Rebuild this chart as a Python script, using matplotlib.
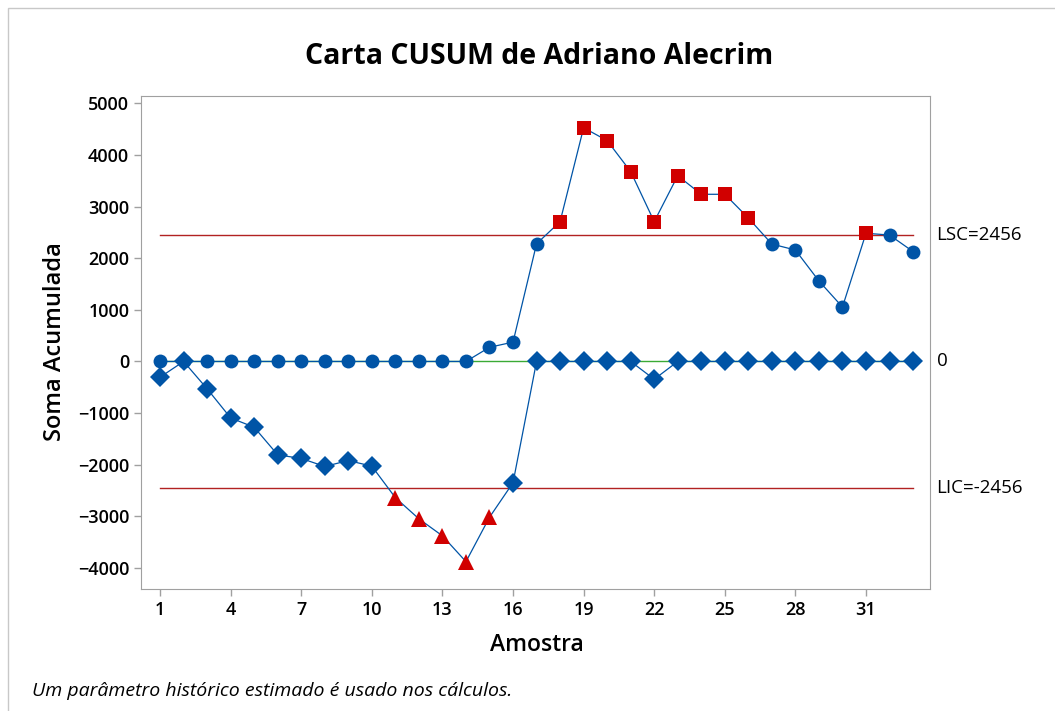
import numpy as np
import matplotlib
matplotlib.use('Agg')
import matplotlib.pyplot as plt
from matplotlib.patches import Rectangle

plt.rcParams['font.family'] = ['Open Sans', 'DejaVu Sans']

# amostras e somas acumuladas
amostra = np.arange(1, 34)
c_sup = [0, 0, 0, 0, 0, 0, 0, 0, 0, 0, 0, 0, 0, 0, 275, 375, 2280,
         2710, 4530, 4280, 3680, 2710, 3600, 3240, 3240, 2780, 2275,
         2160, 1560, 1055, 2485, 2450, 2130]
c_inf = [-305, 0, -530, -1095, -1275, -1810, -1880, -2035, -1920, -2030,
         -2640, -3050, -3380, -3880, -3020, -2350, 0, 0, 0, 0, 0, -345,
         0, 0, 0, 0, 0, 0, 0, 0, 0, 0, 0]
lsc = 2456
lic = -2456
centro = 0

azul = '#0054a6'
vermelho = '#d10000'

fig = plt.figure(figsize=(10.55, 7.11), dpi=100)
ax = fig.add_axes([141/1055, 1-589/711, (930-141)/1055, (589-96)/711])

# borda cinza da figura
fig.patches.append(Rectangle((8/1055, -0.01), 1.0, 1-8/711+0.01, transform=fig.transFigure,
                             fill=False, edgecolor='#c8c8c8', linewidth=1))

c_sup = np.array(c_sup)
c_inf = np.array(c_inf)

ax.plot([1, 33], [lsc, lsc], color='#b22222', lw=1, zorder=1)
ax.plot([1, 33], [lic, lic], color='#b22222', lw=1, zorder=1)
ax.plot([1, 33], [centro, centro], color='#3aaa35', lw=1, zorder=1)

ax.plot(amostra, c_sup, color=azul, lw=0.9, zorder=2)
ax.plot(amostra, c_inf, color=azul, lw=0.9, zorder=2)

fora = c_sup > lsc
ax.plot(amostra[~fora], c_sup[~fora], 'o', color=azul, ms=10, mew=0, zorder=3)
ax.plot(amostra[fora], c_sup[fora], 's', color=vermelho, ms=9.5, mew=0, zorder=3)
fora = c_inf < lic
ax.plot(amostra[~fora], c_inf[~fora], 'D', color=azul, ms=10, mew=0, zorder=3)
ax.plot(amostra[fora], c_inf[fora], '^', color=vermelho, ms=11.5, mew=0, zorder=3)

ax.set_xlim(0.19, 33.72)
ax.set_ylim(-4410, 5145)
ax.set_xticks(range(1, 34, 3))
ax.set_yticks(range(-4000, 5001, 1000))
ax.tick_params(labelsize=13, color='#a0a0a0', length=5, width=1)
for lbl in ax.get_xticklabels() + ax.get_yticklabels():
    lbl.set_fontweight('semibold')
for s in ax.spines.values():
    s.set_color('#a0a0a0')

# rotulos dos limites
ax.text(34.0, lsc, 'LSC=%d' % lsc, va='center', ha='left', fontsize=13.5)
ax.text(34.0, centro, '0', va='center', ha='left', fontsize=13.5)
ax.text(34.0, lic, 'LIC=%d' % lic, va='center', ha='left', fontsize=13.5)

fig.text(539/1055, 1-57/711, 'Carta CUSUM de Adriano Alecrim', ha='center', va='center',
         fontsize=20.5, fontweight='bold')
fig.text(537/1055, 1-645/711, 'Amostra', ha='center', va='center',
         fontsize=16.5, fontweight='semibold')
fig.text(55/1055, 1-342/711, 'Soma Acumulada', ha='center', va='center', rotation=90,
         fontsize=17, fontweight='semibold')
fig.text(32/1055, 1-691/711, 'Um parâmetro histórico estimado é usado nos cálculos.',
         ha='left', va='center', fontsize=14, style='italic')

fig.savefig('out.png', dpi=100)
